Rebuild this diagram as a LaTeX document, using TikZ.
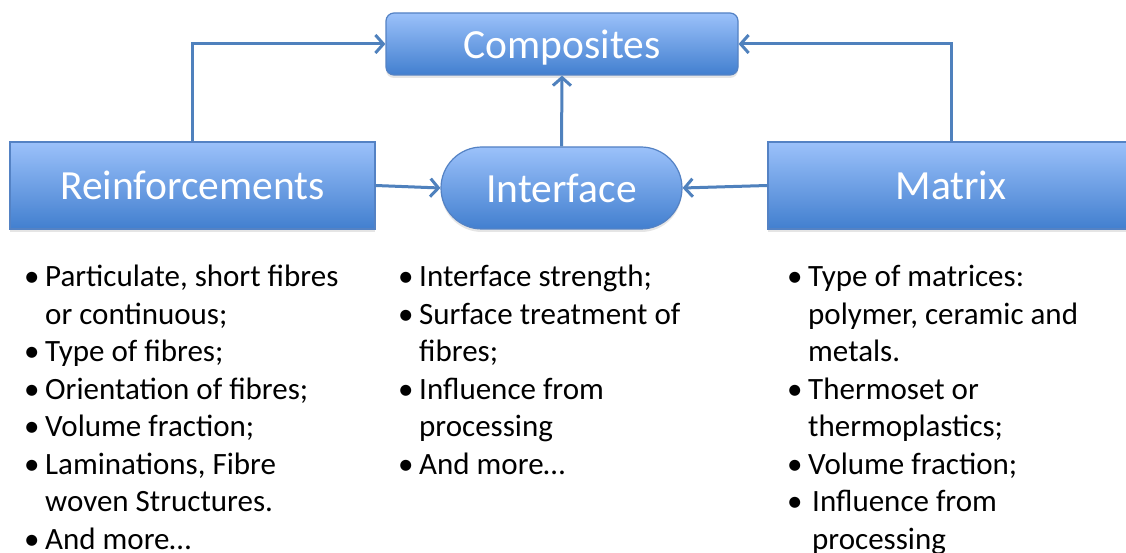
\documentclass[tikz,border=0pt]{standalone}
\usepackage{fontspec}
\setmainfont{Carlito}
\usepackage{xcolor}
\usepackage{tikz}
\usetikzlibrary{arrows.meta,shadows}
\definecolor{boxtop}{RGB}{155,193,250}
\definecolor{boxbottom}{RGB}{66,127,207}
\definecolor{boxline}{RGB}{84,130,196}
\definecolor{linkblue}{RGB}{79,129,189}
\newcommand{\itemdot}{\makebox[21pt][l]{\textbullet}}
\newcommand{\itemgap}{\hspace*{21pt}}

\begin{document}
\begin{tikzpicture}[x=1pt,y=-1pt,
    blockbox/.style={draw=boxline, line width=1.2pt, top color=boxtop, bottom color=boxbottom,
        text=white, font=\fontsize{41.5}{46}\selectfont, inner sep=0pt, minimum height=87pt,
        text depth=0pt,
        drop shadow={opacity=0.2, shadow xshift=0pt, shadow yshift=-3pt}},
    link/.style={linkblue, line width=3pt, -{Straight Barb[length=8pt,width=18pt]}},
    notes/.style={anchor=north west, align=left, inner sep=0pt, font=\fontsize{31}{37.5}\selectfont}]
    \useasboundingbox[fill=white] (0,0) rectangle (1126,553);

    % the four blocks
    \node[blockbox, rounded corners=8pt, minimum width=352pt, minimum height=62pt] (comp) at (562,44) {Composites};
    \node[blockbox, minimum width=365pt] (reinf) at (192.5,185.5) {Reinforcements};
    \node[blockbox, rounded corners=41pt, minimum width=241pt, minimum height=82pt] (inter) at (561.5,188) {Interface};
    \node[blockbox, minimum width=366pt] (matr) at (951,185.5) {Matrix};

    % links
    \draw[link] (reinf.north) |- (comp.west);
    \draw[link] (matr.north) |- (comp.east);
    \draw[link] (inter.north) -- (comp.south);
    \draw[link] (reinf.east) -- (inter.west);
    \draw[link] (matr.west) -- (inter.east);

    % notes under each block
    \node[notes] (reinfnotes) at (24,265) {\itemdot Particulate, short fibres\\
        \itemgap or continuous;\\
        \itemdot Type of fibres;\\
        \itemdot Orientation of fibres;\\
        \itemdot Volume fraction;\\
        \itemdot Laminations, Fibre\\
        \itemgap woven Structures.\\
        \itemdot And more\ldots};
    \node[notes] (internotes) at (398,265) {\itemdot Interface strength;\\
        \itemdot Surface treatment of\\
        \itemgap fibres;\\
        \itemdot Influence from\\
        \itemgap processing\\
        \itemdot And more\ldots};
    \node[notes] (matrnotes) at (787,265) {\itemdot Type of matrices:\\
        \itemgap polymer, ceramic and\\
        \itemgap metals.\\
        \itemdot Thermoset or\\
        \itemgap thermoplastics;\\
        \itemdot Volume fraction;\\
        \itemdot\hspace{4pt}Influence from\\
        \itemgap\hspace{4pt}processing};
\end{tikzpicture}
\end{document}
